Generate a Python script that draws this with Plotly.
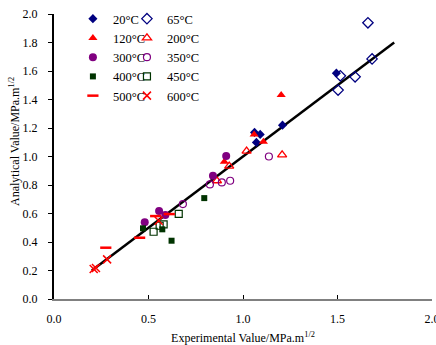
import plotly.graph_objects as go

# ---- data ----
x_20 = [1.061, 1.091, 1.071, 1.209, 1.494]
y_20 = [1.169, 1.155, 1.099, 1.220, 1.585]
x_65 = [1.661, 1.683, 1.515, 1.593, 1.503]
y_65 = [1.938, 1.685, 1.566, 1.559, 1.466]
x_120 = [0.901, 1.059, 1.108, 1.202]
y_120 = [0.963, 1.155, 1.103, 1.431]
x_200 = [0.862, 0.927, 1.019, 1.207]
y_200 = [0.830, 0.933, 1.038, 1.012]
x_300 = [0.480, 0.556, 0.589, 0.841, 0.911]
y_300 = [0.538, 0.617, 0.589, 0.865, 1.003]
x_350 = [0.682, 0.825, 0.888, 0.932, 1.137]
y_350 = [0.666, 0.804, 0.818, 0.830, 1.000]
x_400 = [0.471, 0.573, 0.622, 0.795]
y_400 = [0.496, 0.489, 0.409, 0.708]
x_450 = [0.527, 0.559, 0.580, 0.660]
y_450 = [0.472, 0.514, 0.524, 0.598]
x_500 = [0.274, 0.453, 0.538, 0.610]
y_500 = [0.360, 0.430, 0.582, 0.596]
x_600 = [0.210, 0.222, 0.281, 0.554]
y_600 = [0.210, 0.218, 0.278, 0.549]
fit_x = [0.2, 1.8]
fit_y = [0.2, 1.8]

tick_vals_x = [0.0, 0.5, 1.0, 1.5, 2.0]
tick_vals_y = [0.0, 0.2, 0.4, 0.6, 0.8, 1.0, 1.2, 1.4, 1.6, 1.8, 2.0]
tick_text_x = ["0.0", "0.5", "1.0", "1.5", "2.0"]
tick_text_y = ["0.0", "0.2", "0.4", "0.6", "0.8", "1.0", "1.2", "1.4", "1.6", "1.8", "2.0"]

NAVY = "#000080"
RED = "#ff0000"
PURPLE = "#800080"
GREEN = "#003300"
FONT = "Liberation Serif"

# (name, x, y, marker, legend column)
series = [
    ("20°C", x_20, y_20, dict(symbol="diamond", size=7, color=NAVY), "legend"),
    ("65°C", x_65, y_65, dict(symbol="diamond-open", size=8, color=NAVY, line=dict(width=1.3)), "legend2"),
    ("120°C", x_120, y_120, dict(symbol="triangle-up", size=8, color=RED), "legend"),
    ("200°C", x_200, y_200, dict(symbol="triangle-up-open", size=8, color=RED, line=dict(width=1.3)), "legend2"),
    ("300°C", x_300, y_300, dict(symbol="circle", size=8, color=PURPLE), "legend"),
    ("350°C", x_350, y_350, dict(symbol="circle-open", size=7, color=PURPLE, line=dict(width=1.2)), "legend2"),
    ("400°C", x_400, y_400, dict(symbol="square", size=6, color=GREEN), "legend"),
    ("450°C", x_450, y_450, dict(symbol="square-open", size=7, color=GREEN, line=dict(width=1.2)), "legend2"),
    ("500°C", x_500, y_500, dict(symbol="line-ew", size=8, color=RED, line=dict(width=2.5, color=RED)), "legend"),
    ("600°C", x_600, y_600, dict(symbol="x-thin", size=8, color=RED, line=dict(width=1.5, color=RED)), "legend2"),
]

fig = go.Figure()
fig.add_trace(go.Scatter(x=fit_x, y=fit_y, mode="lines",
                         line=dict(color="black", width=2.5), showlegend=False))
for name, xs, ys, mk, lg in series:
    fig.add_trace(go.Scatter(x=xs, y=ys, mode="markers", name=name, marker=mk, legend=lg))

leg_common = dict(yanchor="top", xanchor="left", orientation="v", itemwidth=30,
                  font=dict(family=FONT, size=12.5), bgcolor="rgba(0,0,0,0)", borderwidth=0)

fig.update_layout(
    width=436, height=345,
    template=None,
    paper_bgcolor="white", plot_bgcolor="white",
    margin=dict(l=54, r=4, t=14, b=46, autoexpand=False),
    font=dict(family=FONT, size=12, color="black"),
    showlegend=True,
    legend=dict(x=0.050, y=1.035, **leg_common),
    legend2=dict(x=0.193, y=1.035, **leg_common),
    xaxis=dict(range=[0, 2.0], tickvals=tick_vals_x, ticktext=tick_text_x,
               showgrid=False, zeroline=False, showline=True, linecolor="#808080", linewidth=2,
               ticks="inside", ticklen=4, tickcolor="black", automargin=False,
               ticklabelstandoff=8, ticklabeloverflow="allow",
               title=dict(text="Experimental Value/MPa.m<sup>1/2</sup>", standoff=9,
                          font=dict(family=FONT, size=12))),
    yaxis=dict(range=[0, 2.0], tickvals=tick_vals_y,
               ticktext=[t + "\u2002\u2009" for t in tick_text_y],
               showgrid=False, zeroline=False, showline=True, linecolor="black", linewidth=1.5,
               ticks="outside", ticklen=4, tickcolor="black", automargin=False,
               ticklabeloverflow="allow"),
    annotations=[dict(text="Analytical Value/MPa.m<sup>1/2</sup>", textangle=-90,
                      xref="paper", yref="paper", x=0, y=0.551, xshift=-39,
                      xanchor="center", yanchor="middle", showarrow=False,
                      font=dict(family=FONT, size=12))],
)

fig.write_html("out.html", config={"displayModeBar": False},
               post_script="document.body.style.margin='0';document.body.style.padding='0';")
